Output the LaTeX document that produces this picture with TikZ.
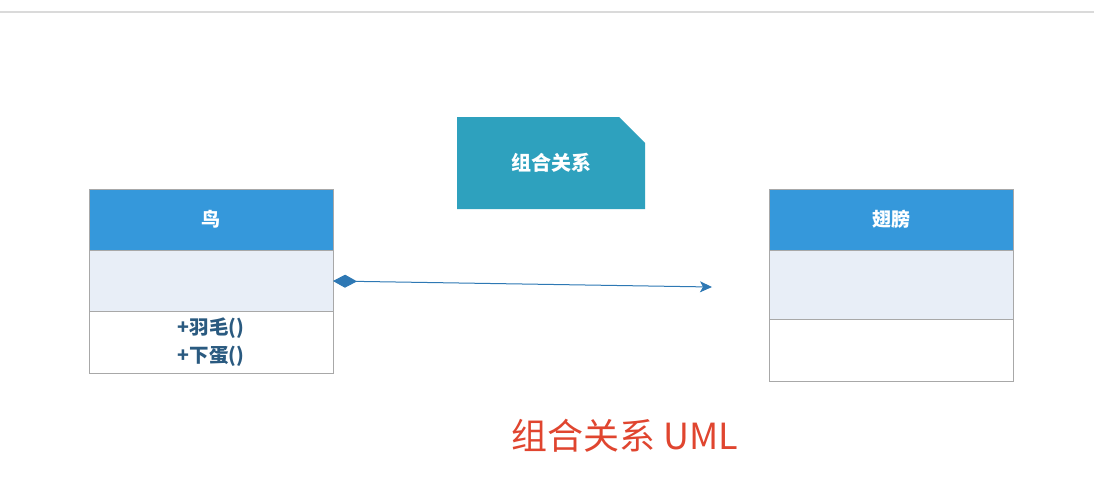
\documentclass[tikz,border=0pt]{standalone}
\usepackage{fontspec}
\setmainfont{Noto Sans CJK SC}
\usetikzlibrary{arrows.meta}
\definecolor{headblue}{HTML}{3598DB}
\definecolor{attrfill}{HTML}{E8EEF7}
\definecolor{edgegrey}{HTML}{A8A8A8}
\definecolor{notecol}{HTML}{2EA1BE}
\definecolor{linkcol}{HTML}{2E78B4}
\definecolor{methodtext}{HTML}{2A5A80}
\definecolor{titlered}{HTML}{E0452F}
\definecolor{rulegrey}{HTML}{DADADA}
\tikzset{
  compart/.style={draw=edgegrey, line width=0.9pt, anchor=north west,
    minimum width=244pt, inner sep=0pt, outer sep=0pt},
  headbox/.style={compart, fill=headblue, minimum height=61pt,
    text=white, font=\fontsize{19}{21}\selectfont\bfseries},
  attrbox/.style={compart, fill=attrfill},
  methbox/.style={compart, fill=white, text=methodtext,
    font=\fontsize{19.5}{28}\selectfont\bfseries, align=center},
  link/.style={draw=linkcol, line width=1pt,
    {Diamond[length=24pt,width=13pt,fill=linkcol]}-{Stealth[length=12pt,width=11pt,inset=3pt,fill=linkcol]}}
}
\begin{document}
\begin{tikzpicture}[x=1pt,y=-1pt]
\useasboundingbox (0,0) rectangle (1094,496);
\fill[white] (0,0) rectangle (1094,496);
% page rule along the top
\draw[rulegrey, line width=1.2pt] (0,12) -- (1094,12);

% class: bird
\node[headbox] (birdhead) at (89,189) {鸟};
\node[attrbox, minimum height=61pt] (birdattr) at (89,250) {};
\node[methbox, minimum height=62pt] (birdmeth) at (89,311) {+羽毛()\\+下蛋()};

% class: wing
\node[headbox] (winghead) at (769,189) {翅膀};
\node[attrbox, minimum height=69pt] (wingattr) at (769,250) {};
\node[methbox, minimum height=62pt] (wingmeth) at (769,319) {};

% note
\fill[notecol] (457,117) -- (619,117) -- (645,143) -- (645,209) -- (457,209) -- cycle;
\node[text=white, font=\fontsize{20}{22}\selectfont\bfseries] (notetext) at (551,163) {组合关系};

% composition link
\coordinate (linkend) at (712,287);
\draw[link] (birdattr.east |- 0,281) -- (linkend);

% caption
\node[text=titlered, font=\fontsize{36}{40}\selectfont] (caption) at (625,436) {组合关系 UML};
\end{tikzpicture}
\end{document}
